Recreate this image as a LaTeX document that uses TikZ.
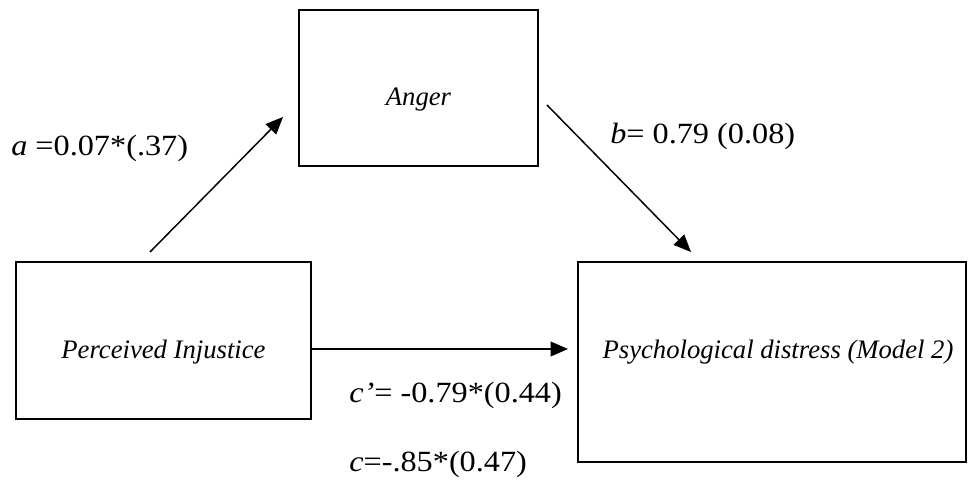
\documentclass[tikz,border=0pt]{standalone}
\usepackage{fontspec}
\setmainfont{Liberation Serif}
\newfontfamily\lblfont[FakeStretch=1.1]{Liberation Serif}
\usetikzlibrary{arrows.meta}
\tikzset{
  box/.style={draw, line width=1.4pt, rectangle, inner sep=0pt, align=center,
    font=\fontsize{20pt}{24pt}\selectfont\itshape},
  conn/.style={line width=1.1pt, -{Triangle[length=13pt,width=11pt]}},
  lbl/.style={anchor=base west, inner sep=0pt, font=\lblfont\fontsize{22pt}{26pt}\selectfont}
}
\begin{document}
\begin{tikzpicture}[x=0.75pt, y=-0.75pt]
\useasboundingbox (0,0) rectangle (968,479);
\node[box, minimum width=179.25pt, minimum height=117pt, text height=25.5pt, text depth=0pt] (anger) at (418.5,88) {Anger};
\node[box, minimum width=221.25pt, minimum height=117.75pt, text height=26.25pt, text depth=0pt] (pi) at (163.5,340.5) {Perceived Injustice};
\node[box, minimum width=291pt, minimum height=150pt, text height=0pt, text depth=6pt] (pd) at (772,362) {\hspace*{9pt}Psychological distress (Model 2)};
\coordinate (a1) at (150,252);
\coordinate (a2) at (283,117);
\coordinate (b1) at (547,105);
\coordinate (b2) at (691,252);
\coordinate (c2) at (568,349);
\draw[conn] (a1) -- (a2);
\draw[conn] (b1) -- (b2);
\draw[conn] (pi.east |- c2) -- (c2);
\node[lbl] (la) at (11,155) {\textit{a} =0.07*(.37)};
\node[lbl] (lb) at (610,143) {\textit{b}= 0.79 (0.08)};
\node[lbl] (lcp) at (349,402) {\textit{c’}= -0.79*(0.44)};
\node[lbl] (lc) at (349,471) {\textit{c}=-.85*(0.47)};
\end{tikzpicture}
\end{document}
